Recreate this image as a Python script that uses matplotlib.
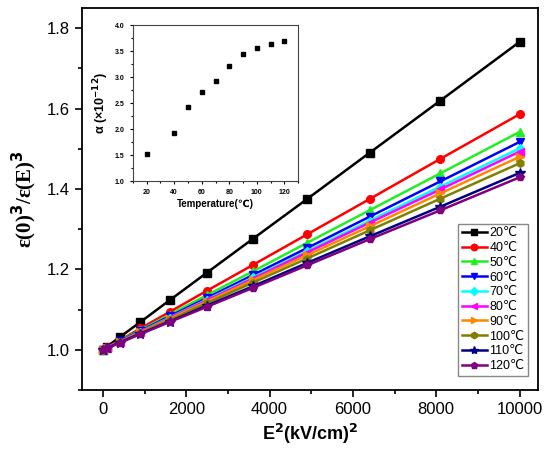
import matplotlib
matplotlib.use("Agg")
import matplotlib.pyplot as plt
from matplotlib.ticker import MultipleLocator

plt.rcParams['font.family'] = ['Liberation Sans', 'DejaVu Sans']

# E^2 values (kV/cm)^2
e2 = [0, 100, 400, 900, 1600, 2500, 3600, 4900, 6400, 8100, 10000]

temps = ['20℃', '40℃', '50℃', '60℃', '70℃', '80℃', '90℃', '100℃', '110℃', '120℃']

r20 = [1.000, 1.008, 1.031, 1.069, 1.123, 1.192, 1.276, 1.375, 1.490, 1.620, 1.766]
r40 = [1.000, 1.006, 1.023, 1.053, 1.094, 1.147, 1.211, 1.287, 1.375, 1.475, 1.586]
r50 = [1.000, 1.005, 1.022, 1.049, 1.087, 1.136, 1.195, 1.266, 1.347, 1.439, 1.542]
r60 = [1.000, 1.005, 1.021, 1.047, 1.083, 1.129, 1.186, 1.253, 1.331, 1.419, 1.517]
r70 = [1.000, 1.005, 1.020, 1.045, 1.080, 1.125, 1.180, 1.245, 1.321, 1.406, 1.501]
r80 = [1.000, 1.005, 1.020, 1.044, 1.079, 1.123, 1.177, 1.242, 1.316, 1.399, 1.493]
r90 = [1.000, 1.005, 1.019, 1.043, 1.077, 1.120, 1.173, 1.235, 1.307, 1.389, 1.480]
r100 = [1.000, 1.005, 1.019, 1.042, 1.074, 1.116, 1.167, 1.227, 1.297, 1.376, 1.464]
r110 = [1.000, 1.004, 1.018, 1.040, 1.070, 1.110, 1.158, 1.216, 1.282, 1.356, 1.440]
r120 = [1.000, 1.004, 1.017, 1.039, 1.069, 1.107, 1.154, 1.210, 1.275, 1.347, 1.429]
series = [r20, r40, r50, r60, r70, r80, r90, r100, r110, r120]

colors = ['#000000', '#ff0000', '#22ee22', '#0000ff', '#00ffff',
          '#ff00ff', '#ff8800', '#808000', '#000080', '#800080']
markers = ['s', 'o', '^', 'v', 'D', '<', '>', 'h', '*', 'p']

# inset: alpha vs temperature
t_in = [20, 40, 50, 60, 70, 80, 90, 100, 110, 120]
alpha = [1.53, 1.93, 2.43, 2.71, 2.92, 3.21, 3.44, 3.56, 3.64, 3.69]

fig = plt.figure(figsize=(5.47, 4.55), dpi=100)
ax = fig.add_axes([0.150, 0.143, 0.834, 0.839])

for ys, lab, c, m in zip(series, temps, colors, markers):
    ms = 5.5
    if m == '*':
        ms = 7
    elif m == 'D':
        ms = 4.5
    ax.plot(e2, ys, color=c, marker=m, markersize=ms, lw=1.8, label=lab)

ax.set_xlim(-500, 10450)
ax.set_ylim(0.9, 1.85)
ax.xaxis.set_major_locator(MultipleLocator(2000))
ax.xaxis.set_minor_locator(MultipleLocator(1000))
ax.yaxis.set_major_locator(MultipleLocator(0.2))
ax.yaxis.set_minor_locator(MultipleLocator(0.1))
ax.tick_params(which='both', direction='out', labelsize=12, width=1.2)
ax.tick_params(which='major', length=5)
ax.tick_params(which='minor', length=3)
ax.set_yticks([1.0, 1.2, 1.4, 1.6, 1.8])
ax.set_yticklabels(['1.0', '1.2', '1.4', '1.6', '1.8'])
for s in ax.spines.values():
    s.set_linewidth(1.3)

ax.set_xlabel('E$^\\mathbf{2}$(kV/cm)$^\\mathbf{2}$', fontsize=13, fontweight='bold')
ax.set_ylabel('ε(0)$^\\mathbf{3}$/ε(E)$^\\mathbf{3}$', fontsize=15, fontweight='bold',
              family=['Liberation Serif', 'DejaVu Serif'], labelpad=6)

leg = ax.legend(loc='lower right', bbox_to_anchor=(0.978, 0.037), fontsize=9,
                fancybox=False, edgecolor='#888888', handlelength=2.0,
                handletextpad=0.2, borderpad=0.3, labelspacing=0.22,
                borderaxespad=0, markerscale=0.85, framealpha=1)
leg.get_frame().set_linewidth(1.0)

# inset
ins = fig.add_axes([0.243, 0.602, 0.302, 0.343])
ins.plot(t_in, alpha, 's', color='black', markersize=2.5)
ins.set_xlim(10, 130)
ins.set_ylim(1.0, 4.0)
ins.xaxis.set_major_locator(MultipleLocator(20))
ins.xaxis.set_minor_locator(MultipleLocator(10))
ins.yaxis.set_major_locator(MultipleLocator(0.5))
ins.yaxis.set_minor_locator(MultipleLocator(0.25))
ins.tick_params(which='both', direction='out', labelsize=5, width=0.8)
ins.tick_params(which='major', length=2.5)
ins.tick_params(which='minor', length=1.5)
ins.set_xticks([20, 40, 60, 80, 100, 120])
ins.set_yticks([1.0, 1.5, 2.0, 2.5, 3.0, 3.5, 4.0])
ins.set_yticklabels(['1.0', '1.5', '2.0', '2.5', '3.0', '3.5', '4.0'], fontweight='bold')
ins.set_xticklabels(['20', '40', '60', '80', '100', '120'], fontweight='bold')
ins.set_xlabel('Temperature(℃)', fontsize=7, fontweight='bold', labelpad=2)
ins.set_ylabel('α (×10$^{\\mathbf{-12}}$)', fontsize=9, fontweight='bold', labelpad=3)
for s in ins.spines.values():
    s.set_linewidth(0.8)
    s.set_color('#444444')

fig.savefig('out.png', dpi=100)
